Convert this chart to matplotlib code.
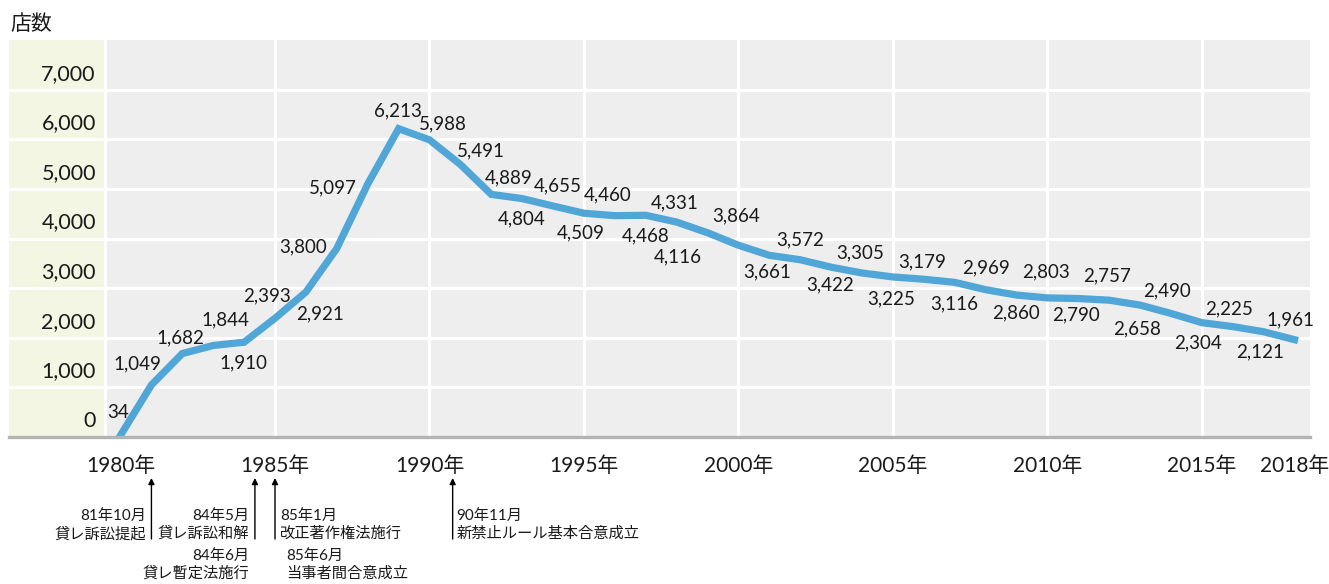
import matplotlib.pyplot as plt

plt.rcParams['font.family'] = ['Lato', 'Noto Sans CJK JP']

# 店舗数の推移 (1980-2018)
years = list(range(1980, 2019))
stores = [34, 1049, 1682, 1844, 1910, 2393, 2921, 3800, 5097, 6213,
          5988, 5491, 4889, 4804, 4655, 4509, 4460, 4468, 4331, 4116,
          3864, 3661, 3572, 3422, 3305, 3225, 3179, 3116, 2969, 2860,
          2803, 2790, 2757, 2658, 2490, 2304, 2225, 2121, 1961]

# 数値ラベルの位置ずらし (px)
label_dx = [-2, -14, -2, 12, -1, -8, 14, -34, -35, -1,
            13, 21, 17, -1, 5, -3, -7, 0, -2, -30,
            -2, -2, 0, -1, -2, -2, -2, 0, 0, -1,
            -1, -2, -2, -3, -4, -4, -4, -4, -4]
label_dy = [23, 21, 16, 26, -21, 22, -22, 2, -4, 18,
            16, 14, 17, -20, 20, -20, 21, -21, 19, -24,
            29, -17, 20, -18, 20, -22, 17, -22, 22, -18,
            26, -16, 24, -24, 23, -20, 18, -20, 20]

tick_years = [1980, 1985, 1990, 1995, 2000, 2005, 2010, 2015, 2018]
grid_years = [1985, 1990, 1995, 2000, 2005, 2010, 2015]
y_levels = [0, 1000, 2000, 3000, 4000, 5000, 6000, 7000]

# 出来事 (矢印の位置)
arrow_x = [1981.0, 1984.35, 1985.0, 1990.75]
note_x = [1981.0, 1984.35, 1984.35, 1985.0, 1985.0, 1990.75]
note_dx = [-5, -6, -6, 5, 11, 4]
note_row = [0, 0, 1, 0, 1, 0]
note_date = ['81年10月', '84年5月', '84年6月', '85年1月', '85年6月', '90年11月']
note_text = ['貸レ訴訟提起', '貸レ訴訟和解', '貸レ暫定法施行',
             '改正著作権法施行', '当事者間合意成立', '新禁止ルール基本合意成立']

line_color = '#50a6d6'
grey_bg = '#eeeeee'
yellow_bg = '#f4f6e4'
txt = '#1a1a1a'

fig = plt.figure(figsize=(13.29, 5.84), dpi=100)
ax = fig.add_axes([9 / 1329, (584 - 437) / 584, 1301 / 1329, 397 / 584])
ax.set_facecolor(grey_bg)
x0 = 1976.39
ax.set_xlim(x0, 2018.5)
ax.set_ylim(0, 8000)
ax.axvspan(x0, 1979.5, color=yellow_bg, lw=0, zorder=0)

for v in y_levels[1:]:
    ax.axhline(v, color='white', lw=2.2, zorder=1)
for g in grid_years + [1979.5]:
    ax.axvline(g, color='white', lw=2.2, zorder=1)

for s in ['top', 'right', 'left']:
    ax.spines[s].set_visible(False)
ax.spines['bottom'].set_color('#b4b4b4')
ax.spines['bottom'].set_linewidth(2.4)
ax.spines['bottom'].set_zorder(4)

ax.plot(years, stores, color=line_color, lw=5.2, solid_joinstyle='miter',
        zorder=3)

for x, v, dx, dy in zip(years, stores, label_dx, label_dy):
    ax.annotate(f'{v:,}', (x, v), xytext=(dx, dy), textcoords='offset pixels',
                ha='center', va='center', fontsize=13.5, color=txt, zorder=5)

ax.set_yticks([])
for v in y_levels:
    ax.annotate(f'{v:,}', (1979.2, v), xytext=(0, 10),
                textcoords='offset pixels', ha='right', va='baseline',
                fontsize=15.5, color=txt)

ax.set_xticks(tick_years)
ax.set_xticklabels([f'{y}年' for y in tick_years], fontsize=15, color=txt)
ax.tick_params(axis='x', length=0, pad=14)

fig.text(10 / 1329, 1 - 24 / 584, '店数', fontsize=15, color=txt,
         ha='left', va='center')

# 出来事の矢印と注記
for x in arrow_x:
    ax.annotate('', xy=(x, 106), xytext=(x, 45),
                xycoords=('data', 'figure pixels'),
                textcoords=('data', 'figure pixels'),
                arrowprops=dict(arrowstyle='-|>', lw=1, color='black',
                                mutation_scale=9, shrinkA=0, shrinkB=0),
                annotation_clip=False)

row_y = [(68, 50), (28, 10)]
for x, dx, r, d, t in zip(note_x, note_dx, note_row, note_date, note_text):
    ha = 'right' if dx < 0 else 'left'
    yd, yt = row_y[r]
    for yy, s in [(yd, d), (yt, t)]:
        ax.annotate(s, (x, yy), xycoords=('data', 'figure pixels'),
                    xytext=(dx, 0), textcoords='offset pixels',
                    ha=ha, va='center', fontsize=11, color=txt,
                    annotation_clip=False)

fig.savefig('out.png', dpi=100, facecolor='white')
